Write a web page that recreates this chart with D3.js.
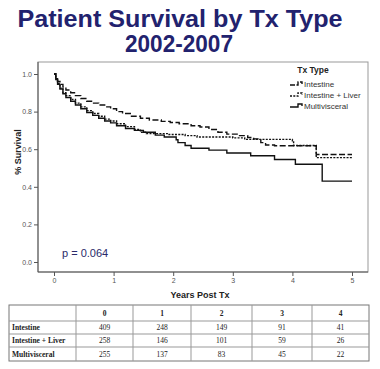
<!DOCTYPE html>
<html><head><meta charset="utf-8">
<script src="https://cdn.jsdelivr.net/npm/d3@7"></script>
<style>body{margin:0;background:#fff}svg{display:block}</style>
</head><body>
<svg id="c" width="380" height="369"></svg>
<script>
const titleLines = ["Patient Survival by Tx Type", "2002-2007"];
const seriesNames = ["Intestine", "Intestine + Liver", "Multivisceral"];
const xTicks = [0, 1, 2, 3, 4, 5];
const yTicks = [0.0, 0.2, 0.4, 0.6, 0.8, 1.0];
const intestine = [[0,1.0],[0.03,0.98],[0.06,0.96],[0.1,0.945],[0.15,0.93],[0.2,0.915],[0.28,0.9],[0.36,0.885],[0.45,0.87],[0.55,0.855],[0.65,0.845],[0.75,0.835],[0.85,0.825],[0.95,0.815],[1.05,0.8],[1.15,0.79],[1.3,0.775],[1.45,0.765],[1.6,0.755],[1.8,0.748],[1.95,0.742],[2.1,0.735],[2.3,0.725],[2.45,0.718],[2.6,0.705],[2.75,0.69],[2.9,0.68],[3.1,0.672],[3.25,0.662],[3.35,0.655],[3.47,0.635],[3.55,0.622],[3.7,0.618],[4.4,0.572],[5.0,0.572]];
const intestineLiver = [[0,1.0],[0.03,0.975],[0.06,0.95],[0.1,0.925],[0.15,0.9],[0.2,0.885],[0.28,0.865],[0.36,0.845],[0.45,0.825],[0.55,0.805],[0.65,0.79],[0.75,0.775],[0.85,0.76],[0.95,0.75],[1.05,0.735],[1.2,0.72],[1.35,0.705],[1.45,0.69],[1.55,0.683],[1.9,0.678],[2.2,0.672],[2.4,0.665],[3.0,0.66],[3.2,0.652],[4.0,0.645],[4.02,0.62],[4.4,0.555],[5.0,0.555]];
const multivisceral = [[0,1.0],[0.03,0.97],[0.06,0.945],[0.1,0.92],[0.15,0.895],[0.2,0.875],[0.28,0.855],[0.36,0.835],[0.45,0.815],[0.55,0.795],[0.65,0.78],[0.75,0.765],[0.85,0.75],[0.95,0.74],[1.05,0.725],[1.2,0.71],[1.35,0.7],[1.5,0.69],[1.7,0.675],[1.85,0.665],[2.05,0.65],[2.08,0.635],[2.2,0.62],[2.3,0.605],[2.6,0.595],[2.9,0.58],[3.3,0.565],[3.7,0.545],[4.05,0.52],[4.5,0.43],[5.0,0.43]];
const tableCols = ["0", "1", "2", "3", "4"];
const atRisk = [[409, 248, 149, 91, 41],[258, 146, 101, 59, 26],[255, 137, 83, 45, 22]];
const pText = "p = 0.064";

const svg = d3.select("#c");
const navy = "#22226e";
svg.append("text").attr("x", 180).attr("y", 27).attr("text-anchor", "middle")
  .attr("font-family", "Liberation Sans, Arial, sans-serif").attr("font-weight", "bold")
  .attr("font-size", 23).attr("fill", navy).attr("textLength", 325).attr("lengthAdjust", "spacingAndGlyphs").text(titleLines[0]);
svg.append("text").attr("x", 179).attr("y", 52).attr("text-anchor", "middle")
  .attr("font-family", "Liberation Sans, Arial, sans-serif").attr("font-weight", "bold")
  .attr("font-size", 23).attr("fill", navy).attr("textLength", 108).attr("lengthAdjust", "spacingAndGlyphs").text(titleLines[1]);

const x = d3.scaleLinear().domain([0, 5]).range([54, 352]);
const y = d3.scaleLinear().domain([0, 1]).range([262, 74]);
const L = 38, R = 368, T = 62, B = 272;

svg.append("rect").attr("x", L).attr("y", T).attr("width", R - L).attr("height", B - T)
  .attr("fill", "none").attr("stroke", "#999").attr("stroke-width", 1);

const xAxis = svg.append("g").attr("transform", `translate(0,${B})`)
  .call(d3.axisBottom(x).tickValues(xTicks).tickFormat(d3.format("d")).tickSize(4).tickPadding(2));
xAxis.select(".domain").attr("d", `M${L},0H${R}`).attr("stroke", "#555");
const yAxis = svg.append("g").attr("transform", `translate(${L},0)`)
  .call(d3.axisLeft(y).tickValues(yTicks).tickFormat(d3.format(".1f")).tickSize(4).tickPadding(2));
yAxis.select(".domain").attr("d", `M0,${T}V${B}`).attr("stroke", "#555");
svg.selectAll(".tick line").attr("stroke", "#555");
svg.selectAll(".tick text").attr("font-family", "Liberation Sans, Arial, sans-serif").attr("font-size", 7).attr("fill", "#555");

svg.append("text").attr("x", 200).attr("y", 298).attr("text-anchor", "middle")
  .attr("font-family", "Liberation Sans, Arial, sans-serif").attr("font-weight", "bold").attr("font-size", 9).attr("fill", "#222").text("Years Post Tx");
svg.append("text").attr("transform", "translate(21,152) rotate(-90)").attr("text-anchor", "middle")
  .attr("font-family", "Liberation Sans, Arial, sans-serif").attr("font-weight", "bold").attr("font-size", 9).attr("fill", "#222").text("% Survival");

svg.append("text").attr("x", 62).attr("y", 257).attr("font-family", "Liberation Sans, Arial, sans-serif")
  .attr("font-size", 11).attr("fill", "#2a2a6a").text(pText);

const line = d3.line().x(d => x(d[0])).y(d => y(d[1])).curve(d3.curveStepAfter);
const series = [intestine, intestineLiver, multivisceral];
const dashes = ["6,2.5", "2,1.3", null];
series.forEach((s, i) => {
  svg.append("path").attr("d", line(s)).attr("fill", "none").attr("stroke", "#111")
    .attr("stroke-width", 1.4).attr("stroke-dasharray", dashes[i]);
});

// legend
svg.append("text").attr("x", 313).attr("y", 73).attr("text-anchor", "middle")
  .attr("font-family", "Liberation Sans, Arial, sans-serif").attr("font-weight", "bold").attr("font-size", 8.5).attr("fill", "#222").text("Tx Type");
seriesNames.forEach((n, i) => {
  const ly = 85 + i * 11;
  svg.append("path").attr("d", `M290,${ly}H298V${ly - 3}H302V${ly - 1}`).attr("fill", "none")
    .attr("stroke", "#111").attr("stroke-width", 1.4).attr("stroke-dasharray", dashes[i] ? (i === 0 ? "5,1.5" : "2,1.3") : null);
  svg.append("text").attr("x", 304).attr("y", ly + 2).attr("font-family", "Liberation Sans, Arial, sans-serif")
    .attr("font-size", 8).attr("fill", "#333").text(n);
});

// table
const colX = [9, 76, 133, 191, 252, 312, 369];
const rowY = [305, 321, 334, 347, 361];
const tg = svg.append("g").attr("font-family", "Liberation Serif, Times New Roman, serif").attr("font-size", 7.5).attr("fill", "#222");
tg.append("rect").attr("x", colX[0]).attr("y", rowY[0]).attr("width", colX[6] - colX[0]).attr("height", rowY[4] - rowY[0])
  .attr("fill", "none").attr("stroke", "#777").attr("stroke-width", 1);
colX.slice(1, 6).forEach(cx => tg.append("line").attr("x1", cx).attr("x2", cx).attr("y1", rowY[0]).attr("y2", rowY[4]).attr("stroke", "#999"));
rowY.slice(1, 4).forEach(ry => tg.append("line").attr("x1", colX[0]).attr("x2", colX[6]).attr("y1", ry).attr("y2", ry).attr("stroke", "#999"));
tableCols.forEach((c, j) => {
  tg.append("text").attr("x", (colX[j + 1] + colX[j + 2]) / 2).attr("y", (rowY[0] + rowY[1]) / 2 + 2.5)
    .attr("text-anchor", "middle").attr("font-weight", "bold").text(c);
});
seriesNames.forEach((n, i) => {
  const cy = (rowY[i + 1] + rowY[i + 2]) / 2 + 2.5;
  tg.append("text").attr("x", colX[0] + 3).attr("y", cy).attr("font-weight", "bold").text(n);
  atRisk[i].forEach((v, j) => {
    tg.append("text").attr("x", (colX[j + 1] + colX[j + 2]) / 2).attr("y", cy).attr("text-anchor", "middle").text(v);
  });
});
</script>
</body></html>
